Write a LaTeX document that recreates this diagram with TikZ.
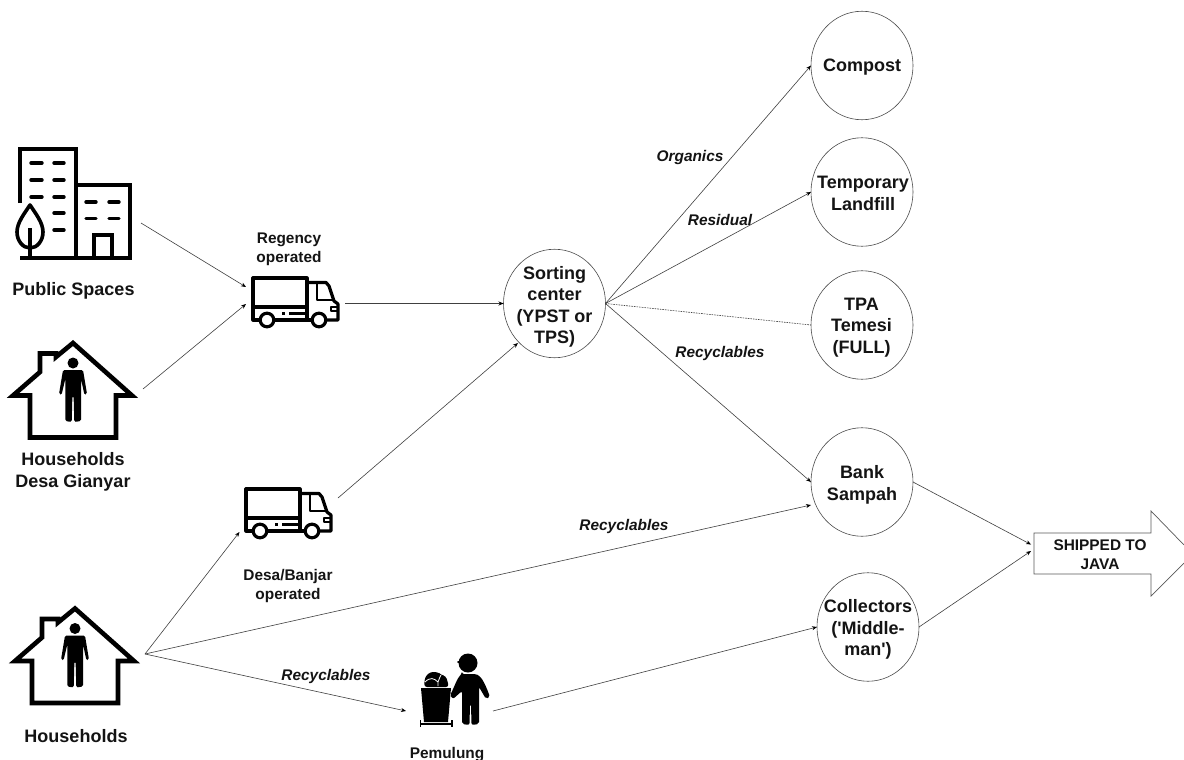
\documentclass[tikz,border=0pt]{standalone}
\usepackage{fontspec}
\setmainfont[Ligatures=TeXOff]{Liberation Sans}
\usetikzlibrary{shapes.geometric,arrows.meta}
\tikzset{
  x=1pt,y=-1pt,
  blob/.style={draw=black!70,line width=0.6pt,fill=white,ellipse,inner sep=0pt,outer sep=0pt,
    minimum width=102pt,minimum height=108.5pt},
  blobtext/.style={align=center,inner sep=0pt,text=black!92,font=\fontsize{18}{21.5}\selectfont\bfseries},
  link/.style={draw=black!75,line width=0.6pt,-{Stealth[length=5pt,width=4pt,black]}},
  dotlink/.style={draw=black!75,line width=0.6pt,dash pattern=on 1.6pt off 1pt},
  biglabel/.style={align=center,inner sep=0pt,text=black!92,font=\fontsize{18}{22}\selectfont\bfseries},
  smalllabel/.style={align=center,inner sep=0pt,text=black!92,font=\fontsize{15.4}{19}\selectfont\bfseries},
  flowlabel/.style={inner sep=0pt,text=black!92,font=\fontsize{15.4}{19}\selectfont\bfseries\itshape},
  icon/.style={draw=black,line width=4pt,line join=miter},
  iconthin/.style={draw=black,line width=3.2pt,line join=round},
  dashw/.style={draw=black,line width=3.4pt,line cap=round},
}
\newcommand{\houseicon}{%
  \draw[icon,line width=4.6pt] (40,372) -- (40,353.5) -- (56,353.5) -- (56,357) -- (73,343) -- (132,395.5) -- (116,395.5) -- (116,437.5) -- (30,437.5) -- (30,395.5) -- (13,395.5) -- cycle;
  \fill[black] (73,363) circle (5.5);
  \fill[black,rounded corners=1.5pt] (63,370) -- (83,370) -- (87,394) -- (84.5,395) -- (81,379) -- (81,421) -- (74.3,422) -- (73.6,396) -- (72.4,396) -- (71.7,422) -- (65.3,421) -- (65.3,379) -- (61.5,395) -- (59,394) -- cycle;
}
\newcommand{\truckicon}{%
  \draw[iconthin] (260,320) -- (253,320) -- (253,278) -- (307,278) -- (307,320);
  \draw[iconthin] (253,307) -- (307,307);
  \draw[iconthin] (274,320) -- (312,320);
  \draw[iconthin] (326,320) -- (338,320) -- (338,304) -- (334,301) -- (329,286) -- (326,282.5) -- (307,282.5);
  \draw[iconthin,line width=2.6pt] (317,284) -- (317,300) -- (333,300);
  \draw[iconthin,line width=2.4pt] (337,307) -- (331,307) -- (331,311) -- (337,311);
  \draw[iconthin] (267,320) circle (6.8);
  \draw[iconthin] (319,320) circle (6.8);
  \draw[iconthin,line width=2.2pt] (282,313.5) -- (284.5,313.5);
  \draw[iconthin,line width=2.2pt] (289,313.5) -- (305,313.5);
}
\begin{document}
\begin{tikzpicture}
\useasboundingbox (0,0) rectangle (1184,760);
\fill[white] (0,0) rectangle (1184,760);

% --- building icon
\draw[icon] (20,203) -- (20,149) -- (76,149) -- (76,258);
\draw[icon] (76,185) -- (130,185) -- (130,258) -- (20,258);
\draw[icon] (94,258) -- (94,235) -- (112,235) -- (112,258);
\foreach \yy in {163,180,197} {\draw[dashw] (31,\yy) -- (42,\yy); \draw[dashw] (54,\yy) -- (64,\yy);}
\foreach \yy in {213,230} {\draw[dashw] (54,\yy) -- (64,\yy);}
\foreach \yy in {202,218.5} {\draw[dashw] (86,\yy) -- (96,\yy); \draw[dashw] (109,\yy) -- (119,\yy);}
\draw[icon,line width=3.6pt,line join=round] (30,205) .. controls (24,214) and (17,223) .. (17,232) .. controls (17,241) and (23,248) .. (30,248) .. controls (37,248) and (43,241) .. (43,232) .. controls (43,223) and (36,214) .. (30,205) -- cycle;
\draw[icon,line width=3.6pt] (30,228) -- (30,258);

% --- houses
\houseicon
\begin{scope}[shift={(2,265.5)}] \houseicon \end{scope}

% --- trucks
\truckicon
\begin{scope}[shift={(-7,211)}] \truckicon \end{scope}

% --- pemulung icon
\fill[black] (421,688) -- (451,688) -- (448,722) -- (424,722) -- cycle;
\draw[black,line width=1.6pt] (420.5,720) -- (420.5,727) (420.5,724) -- (452,724) (452,720) -- (452,727);
\fill[black,rounded corners=3pt] (424,687) -- (425,677) -- (430,672) -- (438,672) -- (441,675) -- (446,676) -- (449,687) -- cycle;
\draw[white,line width=0.8pt] (425,682) .. controls (430,677) and (434,678) .. (438,682) -- (438,686) (438,682) .. controls (439,679) and (440,677) .. (441,675);
\fill[black] (468,663) circle (9.5);
\draw[black,line width=2pt,line cap=round] (458,661.5) -- (462,661.5);
\fill[black,rounded corners=2pt] (462,674) -- (476,674) .. controls (482,677) and (486,686) .. (490,697) -- (486,699) -- (479,687) -- (479,724) -- (471.5,725) -- (471,704) -- (470,704) -- (469.5,725) -- (462,724) -- (462,691) -- (453,699) -- (450,695) .. controls (454,688) and (457,678) .. (462,674) -- cycle;

% --- circles
\node[blob] (compost) at (862,65.5) {};
\node[blob] (landfill) at (862,192) {};
\node[blob] (tpa) at (862,325) {};
\node[blob] (bank) at (862,482) {};
\node[blob] (collectors) at (868,627) {};
\node[blob] (sorting) at (554.5,303.5) {};
\node[blobtext] (compostlbl) at (862,67.5) {Compost};
\node[blobtext] (landfilllbl) at (863,193.5) {Temporary\\Landfill};
\node[blobtext] (tpalbl) at (861.5,327.5) {TPA\\Temesi\\(FULL)};
\node[blobtext] (banklbl) at (862,485) {Bank\\Sampah};
\node[blobtext] (collectorslbl) at (868,629.5) {Collectors\\('Middle-\\man')};
\node[blobtext] (sortinglbl) at (554.5,307) {Sorting\\center\\(YPST or\\TPS)};

% --- shipped arrow
\draw[black!65,line width=0.7pt,fill=white] (1184,563) -- (1151,596) -- (1151,574) -- (1034,574) -- (1034,533) -- (1151,533) -- (1151,511) -- (1184,545);
\node[align=center,inner sep=0pt,text=black!92,font=\fontsize{15.4}{19}\selectfont\bfseries] (ship) at (1100,554.5) {SHIPPED TO\\JAVA};

% --- labels
\node[biglabel] (publiclbl) at (73.5,291) {Public Spaces};
\node[biglabel] (desalbl) at (73,472) {Households\\Desa Gianyar};
\node[biglabel] (hhlbl) at (76,736) {Households};
\node[smalllabel] (regency) at (289,249) {Regency\\operated};
\node[smalllabel] (banjar) at (288,586.5) {Desa/Banjar\\operated};
\node[smalllabel] (pemlbl) at (447,755) {Pemulung};
\node[flowlabel] (organics) at (690,158) {Organics};
\node[flowlabel] (residual) at (720,219.5) {Residual};
\node[flowlabel] (rec1) at (720,354) {Recyclables};
\node[flowlabel] (rec2) at (624,527) {Recyclables};
\node[flowlabel] (rec3) at (326,677) {Recyclables};

% --- connector anchors beside the icons
\coordinate (publicout) at (141,223);
\coordinate (desaout) at (143,389);
\coordinate (truckin1) at (246,287);
\coordinate (truckin2) at (246,304);
\coordinate (truckout) at (345,303.5);
\coordinate (truckbout) at (338,498);
\coordinate (truckbin) at (239.5,532);
\coordinate (hhout) at (145,654);
\coordinate (pemin) at (406,711);
\coordinate (pemout) at (493,711);
\coordinate (bankin) at (811,505);
\coordinate (sortingin) at (518,343);
\coordinate (shipina) at (1031,544.5);
\coordinate (shipinb) at (1031,551);

% --- connectors
\draw[link] (publicout) -- (truckin1);
\draw[link] (desaout) -- (truckin2);
\draw[link] (truckout) -- (sorting.west);
\draw[link] (truckbout) -- (sortingin);
\draw[link] (hhout) -- (truckbin);
\draw[link] (hhout) -- (bankin);
\draw[link] (hhout) -- (pemin);
\draw[link] (pemout) -- (collectors.west);
\draw[link] (sorting.east) -- (compost.west);
\draw[link] (sorting.east) -- (landfill.west);
\draw[dotlink] (sorting.east) -- (tpa.west);
\draw[link] (sorting.east) -- (bank.west);
\draw[link] (bank.east) -- (shipina);
\draw[link] (collectors.east) -- (shipinb);
\end{tikzpicture}
\end{document}
